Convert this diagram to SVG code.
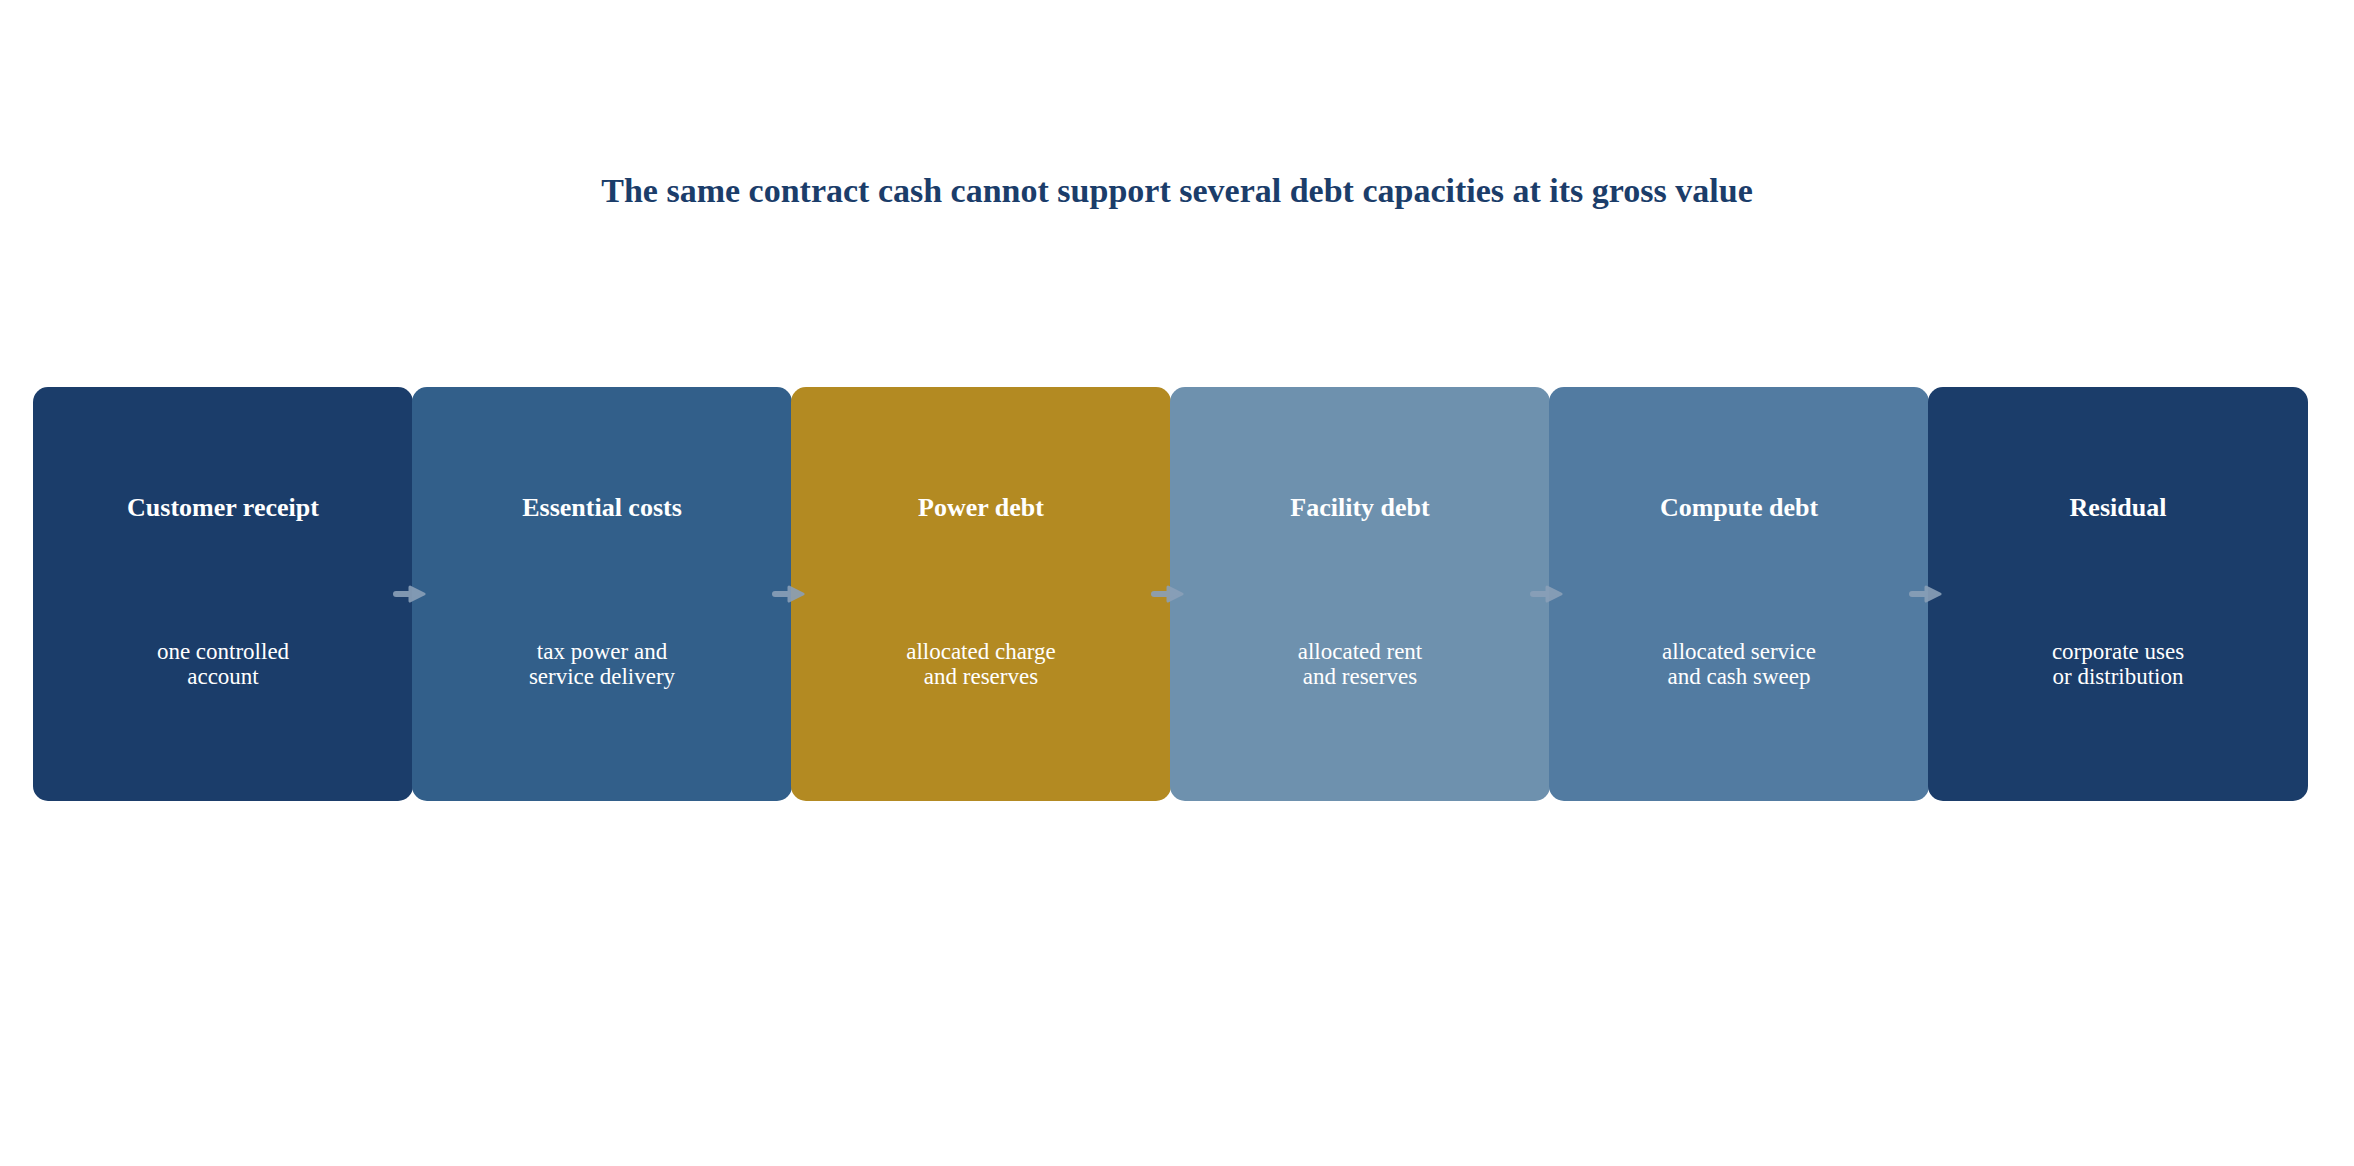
<svg xmlns="http://www.w3.org/2000/svg" width="2354" height="1166" viewBox="0 0 2354 1166">
<defs>
<style>
.title{font-family:"Liberation Serif","Times New Roman",serif;font-weight:bold;font-size:34px;fill:#1b3d6a;text-anchor:middle}
.nt{font-family:"Liberation Serif","Times New Roman",serif;font-weight:bold;font-size:26px;fill:#ffffff;text-anchor:middle}
.ns{font-family:"Liberation Serif","Times New Roman",serif;font-size:23px;fill:#ffffff;text-anchor:middle}
.arrow{opacity:0.9}
.conn{stroke:#8aa0b8;stroke-width:6;stroke-linecap:round;fill:none}
.head{fill:#8aa0b8;stroke:#8aa0b8;stroke-width:3;stroke-linejoin:round}
</style>
</defs>
<rect width="2354" height="1166" fill="#ffffff"/>
<text class="title" x="1177" y="202">The same contract cash cannot support several debt capacities at its gross value</text>
<g id="n1"><rect x="33" y="387" width="380" height="414" rx="15" fill="#1b3d6a"/><text class="nt" x="223" y="516">Customer receipt</text><text class="ns" x="223" y="659">one controlled</text><text class="ns" x="223" y="684">account</text></g>
<g id="n2"><rect x="412" y="387" width="380" height="414" rx="15" fill="#325f8a"/><text class="nt" x="602" y="516">Essential costs</text><text class="ns" x="602" y="659">tax power and</text><text class="ns" x="602" y="684">service delivery</text></g>
<g id="n3"><rect x="791" y="387" width="380" height="414" rx="15" fill="#b38a22"/><text class="nt" x="981" y="516">Power debt</text><text class="ns" x="981" y="659">allocated charge</text><text class="ns" x="981" y="684">and reserves</text></g>
<g id="n4"><rect x="1170" y="387" width="380" height="414" rx="15" fill="#6e91ae"/><text class="nt" x="1360" y="516">Facility debt</text><text class="ns" x="1360" y="659">allocated rent</text><text class="ns" x="1360" y="684">and reserves</text></g>
<g id="n5"><rect x="1549" y="387" width="380" height="414" rx="15" fill="#527ba1"/><text class="nt" x="1739" y="516">Compute debt</text><text class="ns" x="1739" y="659">allocated service</text><text class="ns" x="1739" y="684">and cash sweep</text></g>
<g id="n6"><rect x="1928" y="387" width="380" height="414" rx="15" fill="#1b3d6a"/><text class="nt" x="2118" y="516">Residual</text><text class="ns" x="2118" y="659">corporate uses</text><text class="ns" x="2118" y="684">or distribution</text></g>
<g id="connectors">
<g class="arrow"><path class="conn" d="M396,594 H412"/><path class="head" d="M410,587 L424,594 L410,601 Z"/></g>
<g class="arrow"><path class="conn" d="M775,594 H791"/><path class="head" d="M789,587 L803,594 L789,601 Z"/></g>
<g class="arrow"><path class="conn" d="M1154,594 H1170"/><path class="head" d="M1168,587 L1182,594 L1168,601 Z"/></g>
<g class="arrow"><path class="conn" d="M1533,594 H1549"/><path class="head" d="M1547,587 L1561,594 L1547,601 Z"/></g>
<g class="arrow"><path class="conn" d="M1912,594 H1928"/><path class="head" d="M1926,587 L1940,594 L1926,601 Z"/></g>
</g>
</svg>
